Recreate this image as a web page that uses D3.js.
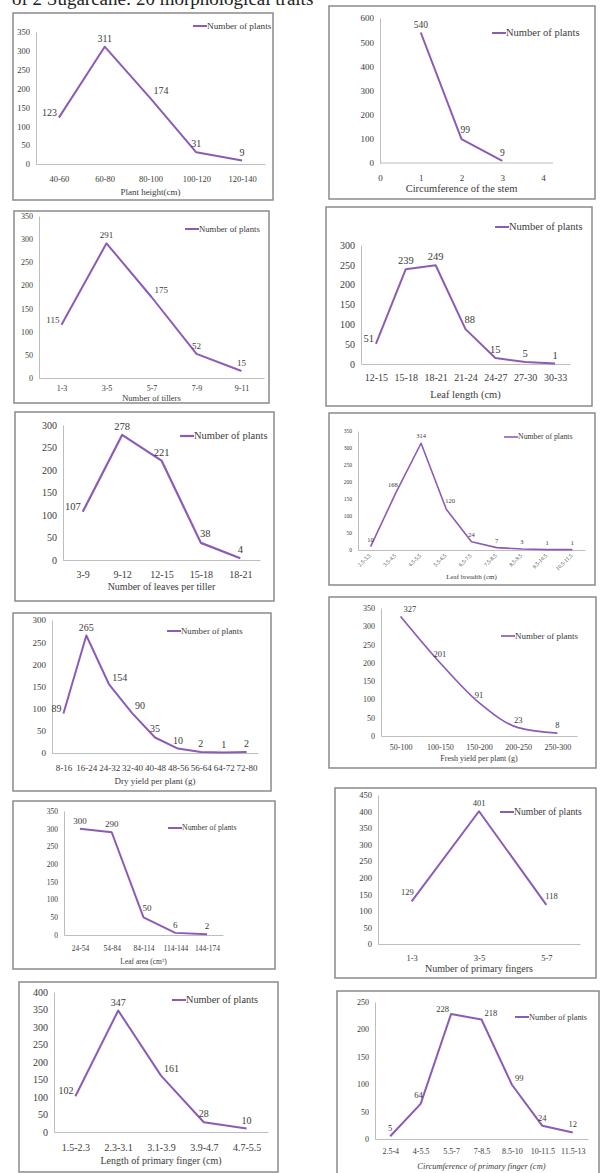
<!DOCTYPE html>
<html>
<head>
<meta charset="utf-8">
<script src="https://cdn.jsdelivr.net/npm/d3@7"></script>
<style>
  body { margin: 0; background: #fff; }
  svg { display: block; font-family: "Liberation Serif", "DejaVu Serif", serif; }
  .box { fill: #fff; stroke: #8a8a8a; stroke-width: 1.5; }
  .axis path { stroke: #bdbdbd; stroke-width: 1; }
  .axis text { fill: #3a3a3a; }
  .series { fill: none; stroke: #8b5cb5; stroke-linejoin: round; }
  .lbl, .ttl, .leg { fill: #3a3a3a; }
</style>
</head>
<body>
<div id="chart"></div>
<script>
// ---- data ----
var heightCats = ["40-60", "60-80", "80-100", "100-120", "120-140"];
var heightVals = [123, 311, 174, 31, 9];

var stemX = [1, 2, 3];
var stemVals = [540, 99, 9];
var stemTicks = [0, 1, 2, 3, 4];

var tillerCats = ["1-3", "3-5", "5-7", "7-9", "9-11"];
var tillerVals = [115, 291, 175, 52, 15];

var leafLenCats = ["12-15", "15-18", "18-21", "21-24", "24-27", "27-30", "30-33"];
var leafLenVals = [51, 239, 249, 88, 15, 5, 1];

var leavesCats = ["3-9", "9-12", "12-15", "15-18", "18-21"];
var leavesVals = [107, 278, 221, 38, 4];

var breadthCats = ["2.5-3.5", "3.5-4.5", "4.5-5.5", "5.5-6.5", "6.5-7.5", "7.5-8.5", "8.5-9.5", "9.5-10.5", "10.5-11.5"];
var breadthVals = [10, 168, 314, 120, 24, 7, 3, 1, 1];

var dryCats = ["8-16", "16-24", "24-32", "32-40", "40-48", "48-56", "56-64", "64-72", "72-80"];
var dryVals = [89, 265, 154, 90, 35, 10, 2, 1, 2];

var freshCats = ["50-100", "100-150", "150-200", "200-250", "250-300"];
var freshVals = [327, 201, 91, 23, 8];

var areaCats = ["24-54", "54-84", "84-114", "114-144", "144-174"];
var areaVals = [300, 290, 50, 6, 2];

var fingerNumCats = ["1-3", "3-5", "5-7"];
var fingerNumVals = [129, 401, 118];

var fingerLenCats = ["1.5-2.3", "2.3-3.1", "3.1-3.9", "3.9-4.7", "4.7-5.5"];
var fingerLenVals = [102, 347, 161, 28, 10];

var fingerCircCats = ["2.5-4", "4-5.5", "5.5-7", "7-8.5", "8.5-10", "10-11.5", "11.5-13"];
var fingerCircVals = [5, 64, 228, 218, 99, 24, 12];

var seriesName = "Number of plants";

// ---- panel layout ----
var panels = [
  {cats: heightCats, vals: heightVals, yMax: 350, title: "Plant height(cm)",
   box: [13, 13, 273, 200], l: 36, r: 265, t: 32, b: 164, tickY: 179, titleY: 195,
   fs: 8.5, lfs: 10, tfs: 9, legX: 193, legY: 26, legFs: 9.2, lw: 2,
   pos: ["l", "t", "r", "t", "t"]},
  {xs: stemX, vals: stemVals, yMax: 600, yStep: 100, title: "Circumference of the stem",
   box: [329, 6, 595, 199], l: 380, r: 543, t: 18, b: 163, tickY: 178, titleY: 192,
   fs: 9, lfs: 9.5, tfs: 10.5, legX: 492, legY: 33, legFs: 10.5, lw: 2,
   pos: ["t", "tr", "t"]},
  {cats: tillerCats, vals: tillerVals, yMax: 350, title: "Number of tillers",
   box: [14, 211, 269, 403], l: 39, r: 264, t: 216, b: 378, tickY: 388, titleY: 401,
   fs: 8, lfs: 9, tfs: 8.5, legX: 185, legY: 229, legFs: 8.7, lw: 2,
   pos: ["l", "t", "r", "t", "t"]},
  {cats: leafLenCats, vals: leafLenVals, yMax: 300, title: "Leaf length (cm)",
   box: [326, 207, 592, 406], l: 361, r: 570, t: 245, b: 364, tickY: 378, titleY: 398,
   fs: 10, lfs: 10.5, tfs: 10.5, legX: 495, legY: 227, legFs: 10.5, lw: 2,
   pos: ["l", "t", "t", "tr", "t", "t", "t"]},
  {cats: leavesCats, vals: leavesVals, yMax: 300, title: "Number of leaves per tiller",
   box: [15, 412, 274, 601], l: 63, r: 260, t: 425, b: 560, tickY: 575, titleY: 590,
   fs: 10, lfs: 10.5, tfs: 10, legX: 180, legY: 436, legFs: 10.5, lw: 2.2,
   pos: ["l", "t", "t", "tr", "t"]},
  {cats: breadthCats, vals: breadthVals, yMax: 350, title: "Leaf breadth (cm)", rotate: true,
   box: [329, 413, 595, 585], l: 358, r: 585, t: 431, b: 550, tickY: 556, titleY: 579,
   fs: 5.5, lfs: 6.5, tfs: 7, legX: 504, legY: 437, legFs: 7.8, lw: 1.6,
   pos: ["t", "tl", "t", "tr", "t", "t", "t", "t", "t"]},
  {cats: dryCats, vals: dryVals, yMax: 300, title: "Dry yield per plant (g)",
   box: [13, 613, 271, 791], l: 52, r: 258, t: 620, b: 753, tickY: 768, titleY: 784,
   fs: 9, lfs: 10, tfs: 9, legX: 167, legY: 631, legFs: 8.8, lw: 2,
   pos: ["l", "t", "r", "r", "t", "t", "t", "t", "t"]},
  {cats: freshCats, vals: freshVals, yMax: 350, title: "Fresh yield per plant (g)",
   box: [329, 597, 596, 768], l: 381, r: 577, t: 608, b: 736, tickY: 747, titleY: 761,
   fs: 8, lfs: 8.5, tfs: 8, legX: 501, legY: 636, legFs: 9, lw: 1.7, smooth: true,
   pos: ["r", "t", "t", "t", "t"]},
  {cats: areaCats, vals: areaVals, yMax: 350, title: "Leaf area (cm\u00b2)",
   box: [13, 801, 275, 969], l: 64, r: 223, t: 811, b: 935, tickY: 949, titleY: 964,
   fs: 7.5, lfs: 9, tfs: 7.5, legX: 168, legY: 828, legFs: 7.8, lw: 2,
   pos: ["t", "t", "tr", "t", "t"]},
  {cats: fingerNumCats, vals: fingerNumVals, yMax: 450, title: "Number of primary fingers",
   box: [335, 788, 596, 978], l: 378, r: 580, t: 795, b: 944, tickY: 958, titleY: 972,
   fs: 8.5, lfs: 8.5, tfs: 10, legX: 500, legY: 812, legFs: 9.7, lw: 2,
   pos: ["tl", "t", "tr"]},
  {cats: fingerLenCats, vals: fingerLenVals, yMax: 400, title: "Length of primary finger (cm)",
   box: [19, 982, 278, 1172], l: 54, r: 268, t: 992, b: 1132, tickY: 1148, titleY: 1164,
   fs: 10, lfs: 10, tfs: 10, legX: 172, legY: 1000, legFs: 10.3, lw: 2,
   pos: ["l", "t", "r", "t", "t"]},
  {cats: fingerCircCats, vals: fingerCircVals, yMax: 250, title: "Circumference of primary finger (cm)",
   box: [337, 991, 599, 1180], l: 375, r: 588, t: 1002, b: 1139, tickY: 1151, titleY: 1169,
   fs: 8, lfs: 8.5, tfs: 8.5, legX: 515, legY: 1017, legFs: 8.3, lw: 2, italicTitle: true,
   pos: ["t", "tl", "l", "r", "r", "t", "t"]}
];

var W = 602, H = 1173;
var svg = d3.select("#chart").append("svg").attr("width", W).attr("height", H);

// cut-off caption line at the very top
svg.append("text")
  .attr("x", 12).attr("y", 5)
  .attr("font-size", 19)
  .attr("fill", "#222")
  .text("of 2 Sugarcane: 20 morphological traits");

// label placement helper
function place(code, px, py) {
  if (code === "l") return {x: px - 2, y: py - 2, a: "end"};
  if (code === "r") return {x: px + 3, y: py - 4, a: "start"};
  if (code === "tl") return {x: px + 2, y: py - 6, a: "end"};
  if (code === "tr") return {x: px - 1, y: py - 6, a: "start"};
  return {x: px, y: py - 5, a: "middle"};
}

panels.forEach(function(p) {
  var g = svg.append("g");

  g.append("rect").attr("class", "box")
    .attr("x", p.box[0]).attr("y", p.box[1])
    .attr("width", p.box[2] - p.box[0]).attr("height", p.box[3] - p.box[1]);

  var y = d3.scaleLinear().domain([0, p.yMax]).range([p.b, p.t]);
  var x, xv;
  if (p.cats) {
    x = d3.scalePoint().domain(p.cats).range([p.l, p.r]).padding(0.5);
    xv = p.cats;
  } else {
    x = d3.scaleLinear().domain([0, 4]).range([p.l, p.r]);
    xv = p.xs;
  }

  // y axis
  var step = p.yStep || 50;
  var ya = g.append("g").attr("class", "axis")
    .attr("transform", "translate(" + p.l + ",0)")
    .call(d3.axisLeft(y).tickValues(d3.range(0, p.yMax + 1, step)).tickSize(0).tickPadding(6));
  ya.attr("font-family", null).attr("font-size", p.fs);

  // x axis
  var xAxis = d3.axisBottom(x).tickSize(0);
  if (!p.cats) xAxis.tickValues(stemTicks).tickFormat(d3.format("d"));
  var xa = g.append("g").attr("class", "axis")
    .attr("transform", "translate(0," + p.b + ")")
    .call(xAxis);
  xa.attr("font-family", null).attr("font-size", p.fs);
  if (!p.cats) xa.select(".domain").attr("d", "M" + p.l + ",0H" + (p.r + 10));
  xa.selectAll("text").attr("y", p.tickY - p.b).attr("dy", "0.32em");
  if (p.rotate) {
    xa.selectAll("text")
      .attr("text-anchor", "end")
      .attr("dy", null).attr("y", 0)
      .attr("transform", function() { return "translate(0," + (p.tickY - p.b) + ") rotate(-45)"; });
  }

  // axis title
  g.append("text").attr("class", "ttl")
    .attr("x", (p.l + p.r) / 2).attr("y", p.titleY)
    .attr("text-anchor", "middle")
    .attr("font-size", p.tfs)
    .attr("font-style", p.italicTitle ? "italic" : null)
    .text(p.title);

  // the line
  var pts = p.vals.map(function(v, i) { return [x(xv[i]), y(v)]; });
  var line = d3.line().curve(p.smooth ? d3.curveMonotoneX : d3.curveLinear);
  g.append("path").attr("class", "series")
    .attr("stroke-width", p.lw)
    .attr("d", line(pts));

  // data labels
  g.selectAll("text.lbl").data(p.vals).enter().append("text")
    .attr("class", "lbl")
    .attr("font-size", p.lfs)
    .each(function(v, i) {
      var q = place(p.pos[i], pts[i][0], pts[i][1]);
      d3.select(this).attr("x", q.x).attr("y", q.y).attr("text-anchor", q.a);
    })
    .text(function(v) { return v; });

  // legend
  g.append("line")
    .attr("x1", p.legX).attr("x2", p.legX + 14)
    .attr("y1", p.legY).attr("y2", p.legY)
    .attr("stroke", "#8b5cb5").attr("stroke-width", p.lw);
  g.append("text").attr("class", "leg")
    .attr("x", p.legX + 14).attr("y", p.legY).attr("dy", "0.32em")
    .attr("font-size", p.legFs)
    .text(seriesName);
});
</script>
</body>
</html>
